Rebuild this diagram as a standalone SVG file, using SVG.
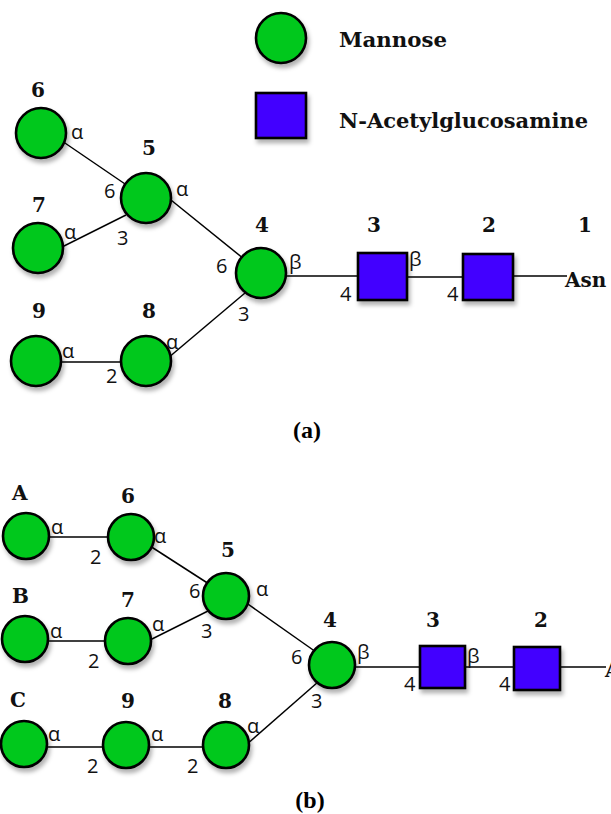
<svg xmlns="http://www.w3.org/2000/svg" width="611" height="814" viewBox="0 0 611 814">
<defs>
<filter id="sh" x="-30%" y="-30%" width="170%" height="170%">
<feDropShadow dx="2" dy="4" stdDeviation="2" flood-color="#000" flood-opacity="0.3"/>
</filter>
</defs>
<style>
.man{fill:#05c81e;stroke:#000;stroke-width:2.6;filter:url(#sh)}
.glc{fill:#4200ff;stroke:#000;stroke-width:2.6;filter:url(#sh)}
.ln{stroke:#000;stroke-width:1.5;fill:none}
.b{font-family:"DejaVu Serif","Liberation Serif",serif;font-weight:bold;font-size:20px;fill:#111}
.s{font-family:"Open Sans","Noto Sans",sans-serif;font-size:20px;fill:#111}
.m{text-anchor:middle}
.leg{font-family:"DejaVu Serif","Liberation Serif",serif;font-weight:bold;font-size:21px;fill:#111}
.cap{font-family:"Liberation Serif",serif;font-weight:bold;font-size:24px;fill:#000;text-anchor:middle}
</style>
<rect width="611" height="814" fill="#fff"/>

<g id="legend">
<circle class="man" cx="281" cy="38" r="25"/>
<rect class="glc" x="256" y="93" width="50" height="45"/>
<text class="leg" x="339" y="47" textLength="108" lengthAdjust="spacingAndGlyphs">Mannose</text>
<text class="leg" x="339" y="128" textLength="249" lengthAdjust="spacingAndGlyphs">N-Acetylglucosamine</text>
</g>

<g id="connectors-a">
<line class="ln" x1="62" y1="141" x2="128" y2="186"/>
<line class="ln" x1="60" y1="248" x2="126" y2="215"/>
<line class="ln" x1="166" y1="196" x2="244" y2="259"/>
<line class="ln" x1="168" y1="358" x2="245" y2="293"/>
<line class="ln" x1="58" y1="362" x2="124" y2="362"/>
<line class="ln" x1="284" y1="276" x2="360" y2="276"/>
<line class="ln" x1="405" y1="277" x2="465" y2="277"/>
<line class="ln" x1="511" y1="276" x2="567" y2="276"/>
</g>

<g id="a-m6"><circle class="man" cx="41" cy="133" r="25"/><text class="b m" x="38" y="97">6</text><text class="s" x="71" y="139">α</text></g>
<g id="a-m5"><circle class="man" cx="146" cy="198" r="25"/><text class="b m" x="149" y="155">5</text><text class="s" x="104" y="198">6</text><text class="s" x="176" y="196">α</text><text class="s" x="117" y="245">3</text></g>
<g id="a-m7"><circle class="man" cx="38" cy="248" r="25"/><text class="b m" x="39" y="212">7</text><text class="s" x="64" y="239">α</text></g>
<g id="a-m4"><circle class="man" cx="261" cy="273" r="25"/><text class="b m" x="262" y="232">4</text><text class="s" x="216" y="273">6</text><text class="s" x="289" y="269">β</text><text class="s" x="238" y="321">3</text></g>
<g id="a-m9"><circle class="man" cx="36" cy="361" r="25"/><text class="b m" x="39" y="318">9</text><text class="s" x="62" y="358">α</text></g>
<g id="a-m8"><circle class="man" cx="146" cy="361" r="25"/><text class="b m" x="149" y="318">8</text><text class="s" x="166" y="349">α</text><text class="s" x="106" y="383">2</text></g>
<g id="a-g3"><rect class="glc" x="358" y="253" width="49" height="47"/><text class="b m" x="374" y="232">3</text><text class="s" x="409" y="266">β</text><text class="s" x="340" y="301">4</text></g>
<g id="a-g2"><rect class="glc" x="463" y="254" width="50" height="46"/><text class="b m" x="489" y="232">2</text><text class="s" x="447" y="301">4</text></g>
<g id="a-asn"><text class="b m" x="585" y="232">1</text><text class="b" x="565" y="287">Asn</text></g>
<text class="cap" x="307" y="438">(a)</text>

<g id="connectors-b">
<line class="ln" x1="45" y1="537" x2="112" y2="537"/>
<line class="ln" x1="150" y1="546" x2="209" y2="584"/>
<line class="ln" x1="45" y1="641" x2="110" y2="641"/>
<line class="ln" x1="148" y1="641" x2="210" y2="610"/>
<line class="ln" x1="245" y1="602" x2="316" y2="652"/>
<line class="ln" x1="45" y1="747" x2="108" y2="747"/>
<line class="ln" x1="145" y1="747" x2="208" y2="747"/>
<line class="ln" x1="246" y1="745" x2="318" y2="682"/>
<line class="ln" x1="352" y1="667" x2="422" y2="667"/>
<line class="ln" x1="463" y1="667" x2="516" y2="667"/>
<line class="ln" x1="558" y1="667" x2="606" y2="667"/>
</g>

<g id="b-ma"><circle class="man" cx="26" cy="536" r="23"/><text class="b" x="12" y="500">A</text><text class="s" x="51" y="534">α</text></g>
<g id="b-m6"><circle class="man" cx="131" cy="537" r="23"/><text class="b m" x="128" y="503">6</text><text class="s" x="154" y="543">α</text><text class="s" x="90" y="564">2</text></g>
<g id="b-m5"><circle class="man" cx="226" cy="596" r="23"/><text class="b m" x="228" y="557">5</text><text class="s" x="189" y="598">6</text><text class="s" x="256" y="596">α</text><text class="s" x="201" y="638">3</text></g>
<g id="b-mb"><circle class="man" cx="25" cy="639" r="23"/><text class="b" x="12" y="603">B</text><text class="s" x="50" y="638">α</text></g>
<g id="b-m7"><circle class="man" cx="128" cy="641" r="23"/><text class="b m" x="128" y="607">7</text><text class="s" x="152" y="631">α</text><text class="s" x="88" y="668">2</text></g>
<g id="b-m4"><circle class="man" cx="332" cy="665" r="23"/><text class="b m" x="330" y="627">4</text><text class="s" x="291" y="664">6</text><text class="s" x="357" y="659">β</text><text class="s" x="311" y="708">3</text></g>
<g id="b-mc"><circle class="man" cx="24" cy="744" r="23"/><text class="b" x="10" y="707">C</text><text class="s" x="48" y="741">α</text></g>
<g id="b-m9"><circle class="man" cx="126" cy="745" r="23"/><text class="b m" x="128" y="708">9</text><text class="s" x="151" y="741">α</text><text class="s" x="87" y="773">2</text></g>
<g id="b-m8"><circle class="man" cx="226" cy="745" r="23"/><text class="b m" x="225" y="708">8</text><text class="s" x="247" y="733">α</text><text class="s" x="187" y="773">2</text></g>
<g id="b-g3"><rect class="glc" x="420" y="646" width="45" height="42"/><text class="b m" x="433" y="627">3</text><text class="s" x="467" y="663">β</text><text class="s" x="404" y="691">4</text></g>
<g id="b-g2"><rect class="glc" x="514" y="647" width="46" height="43"/><text class="b m" x="541" y="627">2</text><text class="s" x="499" y="691">4</text></g>
<g id="b-asn"><text class="b" x="605" y="677">Asn</text></g>
<text class="cap" x="310" y="808">(b)</text>
</svg>
